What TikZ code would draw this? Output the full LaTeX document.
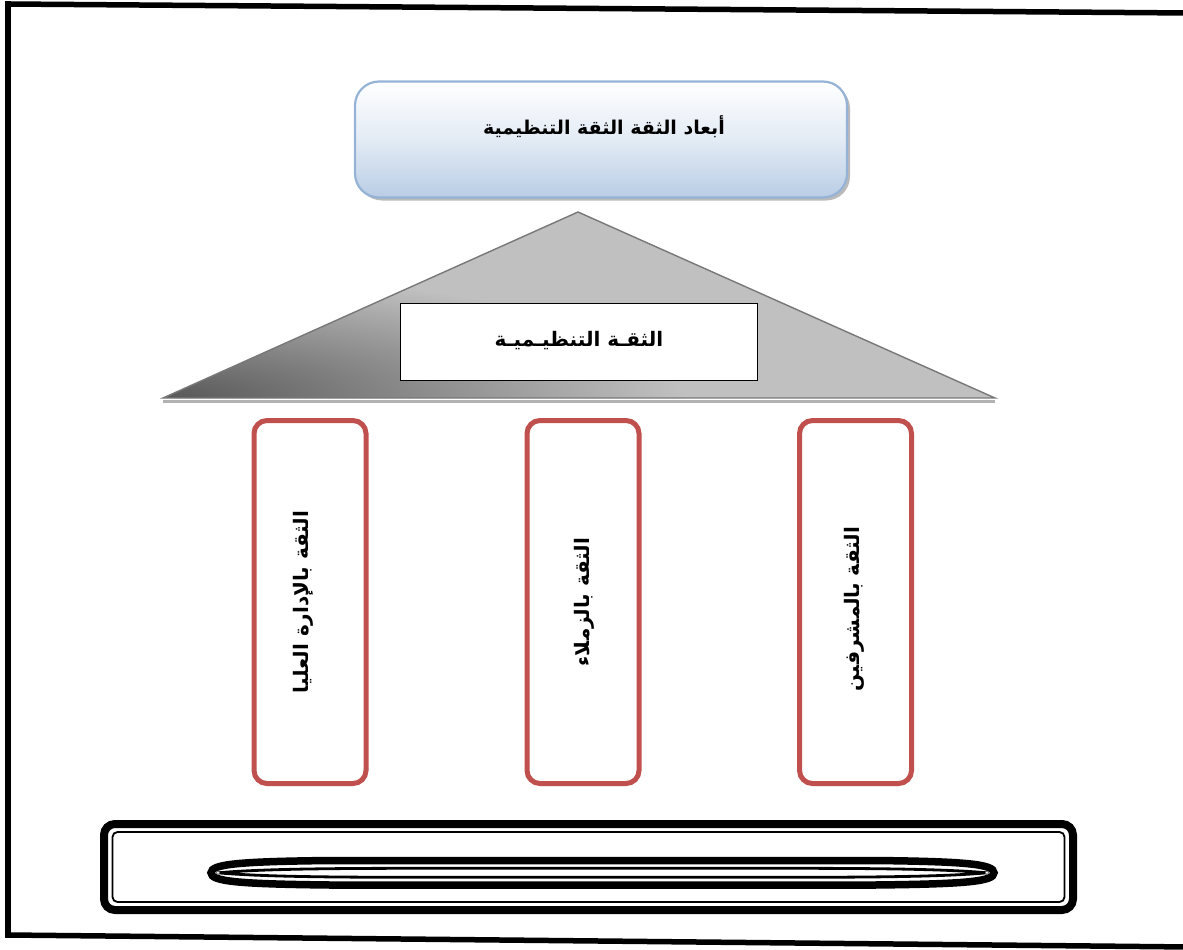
\documentclass[tikz,border=0pt]{standalone}
\usepackage{fontspec}
\newfontfamily\arabicfont[Script=Arabic]{DejaVu Sans}
\TeXXeTstate=1
\usetikzlibrary{shadows,shadings}
\definecolor{boxblue}{RGB}{149,179,215}
\definecolor{lightblue}{RGB}{185,205,229}
\definecolor{pillarred}{RGB}{192,80,77}
\definecolor{roofgrey}{RGB}{192,192,192}
\definecolor{roofdark}{RGB}{88,88,88}
\definecolor{roofedge}{RGB}{120,120,120}
\tikzset{
  frameline/.style={line width=5.5pt, line cap=rect},
  titlebox/.style={draw=boxblue, line width=2.2pt, rounded corners=24pt,
    top color=white, bottom color=lightblue, middle color=white!60!lightblue,
    minimum width=492pt, minimum height=116pt, inner sep=0pt,
    drop shadow={shadow xshift=3pt, shadow yshift=-3pt, fill=black!45, opacity=0.6}},
  labelbox/.style={draw=black, line width=1.4pt, fill=white, inner sep=0pt,
    minimum width=357pt, minimum height=77pt},
  pillar/.style={draw=pillarred, line width=5pt, rounded corners=13pt, fill=white,
    inner sep=0pt, minimum width=112pt, minimum height=363pt},
  artext/.style={inner sep=0pt},
  pillartext/.style={artext, font=\arabicfont\bfseries\fontsize{20}{24}\selectfont, rotate=90},
  baseouter/.style={draw=black, line width=8pt, rounded corners=11pt, inner sep=0pt,
    minimum width=969pt, minimum height=86pt},
  baseinner/.style={draw=black, line width=1.8pt, rounded corners=5pt, inner sep=0pt,
    minimum width=952pt, minimum height=70pt},
}
\begin{document}
\begin{tikzpicture}[x=1pt,y=-1pt]
\useasboundingbox (0,0) rectangle (1183,950);

% outer frame (slightly skewed)
\draw[frameline] (8,4) -- (1190,13);
\draw[frameline] (8,4) -- (8,935);
\draw[frameline] (8,935) -- (1190,947);

% title box
\node[titlebox] (title) at (601,139.5) {};
\node[artext, font=\arabicfont\bfseries\fontsize{19}{23}\selectfont] (titletext) at (604,127)
  {\beginR أبعاد الثقة الثقة التنظيمية\endR};

% roof
\coordinate (apex) at (578,212);
\coordinate (roofL) at (163,398);
\coordinate (roofR) at (995,398);
\draw[line width=3pt, black!30] ([yshift=-3pt]roofL) -- ([yshift=-3pt]roofR);
\begin{scope}
  \clip (apex) -- (roofR) -- (roofL) -- cycle;
  \fill[roofgrey] (163,212) rectangle (995,398);
  \shade[inner color=roofdark, outer color=roofgrey] (roofL) ellipse (520pt and 125pt);
\end{scope}
\draw[line width=1.4pt, roofedge, line join=miter] (apex) -- (roofR) -- (roofL) -- cycle;

\node[labelbox] (roofbox) at (579,342) {};
\node[artext, font=\arabicfont\bfseries\fontsize{20}{24}\selectfont] (rooftext) at (579,341)
  {\beginR الثقـة التنظيـميـة\endR};

% pillars
\node[pillar] (p1) at (310,602) {};
\node[pillar] (p2) at (583,602) {};
\node[pillar] (p3) at (855.5,602) {};
\node[pillartext] (t1) at (303,602) {\beginR الثقة بالإدارة العليا\endR};
\node[pillartext] (t2) at (584,602) {\beginR الثقة بالزملاء\endR};
\node[pillartext] (t3) at (854,609) {\beginR الثقة بالمشرفين\endR};

% base slab
\node[baseouter] (base) at (588.5,867) {};
\node[baseinner] (baseinside) at (588.5,867) {};
\coordinate (lensL) at (218,872.8);
\coordinate (lensR) at (987,872.8);
\draw[line width=7.5pt]
  (211,872.8) .. controls (211,864) and (240,861.5) .. (330,860.5) -- (875,860.5)
  .. controls (965,861.5) and (994,864) .. (994,872.8)
  .. controls (994,881.6) and (965,884) .. (875,885) -- (330,885)
  .. controls (240,884) and (211,881.6) .. (211,872.8) -- cycle;
\draw[line width=2.8pt]
  (lensL) .. controls (260,869) and (330,868.3) .. (420,868.3) -- (785,868.3)
  .. controls (875,868.3) and (945,869) .. (lensR)
  .. controls (945,876.6) and (875,877.3) .. (785,877.3) -- (420,877.3)
  .. controls (330,877.3) and (260,876.6) .. (lensL) -- cycle;
\draw[fill=white, draw=black!60, line width=0.6pt] (lensL) circle (1.8pt);
\draw[fill=white, draw=black!60, line width=0.6pt] (lensR) circle (1.8pt);
\end{tikzpicture}
\end{document}
